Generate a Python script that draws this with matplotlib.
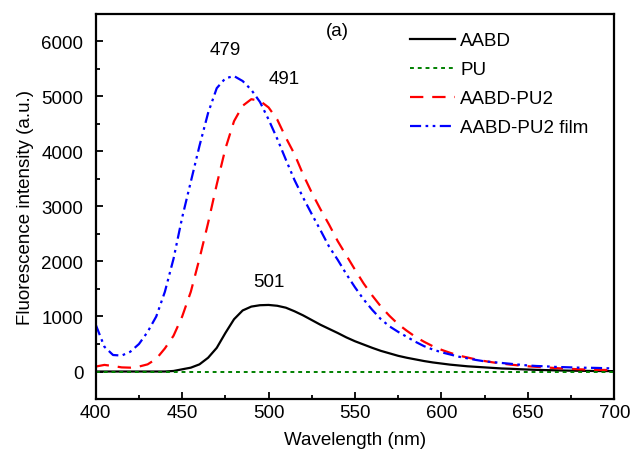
import matplotlib
matplotlib.use("Agg")
import matplotlib.pyplot as plt
from matplotlib.ticker import MultipleLocator

plt.rcParams['font.family'] = ['Liberation Sans', 'DejaVu Sans']
plt.rcParams['font.size'] = 13.5

# wavelength grid (nm)
wavelength = list(range(400, 705, 5))

# AABD
aabd = [0, 0, 0, 0, 0, 0, 0, 0, 0, 10,
        40, 70, 130, 250, 430, 700, 950, 1110, 1180, 1205,
        1210, 1195, 1160, 1095, 1020, 935, 850, 775, 700, 620,
        550, 490, 430, 375, 330, 285, 250, 220, 190, 165,
        145, 125, 110, 95, 85, 75, 65, 55, 50, 42,
        36, 30, 26, 22, 18, 15, 13, 11, 9, 8, 7]

# PU
pu = [0] * len(wavelength)

# AABD-PU2
aabd_pu2 = [90, 120, 100, 75, 70, 90, 130, 230, 420, 650,
            1000, 1450, 2050, 2700, 3400, 4050, 4550, 4830, 4950, 4920,
            4800, 4580, 4250, 3950, 3580, 3250, 2950, 2670, 2370, 2110,
            1850, 1600, 1380, 1180, 1010, 860, 740, 630, 540, 460,
            395, 340, 290, 255, 220, 190, 165, 145, 125, 110,
            95, 85, 75, 65, 55, 48, 40, 35, 30, 28, 25]

# AABD-PU2 film
aabd_pu2_film = [850, 450, 300, 290, 360, 500, 720, 1000, 1450, 2050,
                 2800, 3450, 4100, 4700, 5150, 5330, 5370, 5280, 5120, 4900,
                 4580, 4230, 3850, 3480, 3160, 2860, 2570, 2270, 2030, 1770,
                 1530, 1310, 1120, 950, 820, 720, 630, 540, 460, 400,
                 350, 310, 270, 240, 210, 185, 170, 155, 140, 125,
                 110, 100, 95, 85, 80, 75, 70, 68, 65, 60, 55]

# peak labels: text, x, y (data coords of label centre)
peak_labels = [("479", 475, 5850), ("491", 509, 5330), ("501", 500, 1640)]

fig = plt.figure(figsize=(6.3, 4.52), dpi=100)
ax = fig.add_axes([0.152, 0.115, 0.823, 0.852])

ax.plot(wavelength, aabd, color='black', lw=1.6, label='AABD', solid_joinstyle='round')
ax.plot(wavelength, pu, color='#008000', lw=1.4, linestyle=(0, (2, 2)), label='PU')
ax.plot(wavelength, aabd_pu2, color='red', lw=1.6, linestyle=(0, (6, 4)), label='AABD-PU2')
ax.plot(wavelength, aabd_pu2_film, color='blue', lw=1.6,
        linestyle=(0, (5, 2, 1.2, 2, 1.2, 2)), label='AABD-PU2 film')

for txt, x, y in peak_labels:
    ax.text(x, y, txt, ha='center', va='center')
ax.text(540, 6190, '(a)', ha='center', va='center')

ax.set_xlim(400, 700)
ax.set_ylim(-500, 6500)
ax.xaxis.set_major_locator(MultipleLocator(50))
ax.xaxis.set_minor_locator(MultipleLocator(25))
ax.yaxis.set_major_locator(MultipleLocator(1000))
ax.yaxis.set_minor_locator(MultipleLocator(500))
ax.tick_params(which='both', direction='in', width=1.3)
ax.tick_params(which='major', length=5)
ax.tick_params(which='minor', length=3)
ax.tick_params(axis='y', which='major', pad=9)
ax.tick_params(axis='both', which='both', top=False, right=False)
for s in ax.spines.values():
    s.set_linewidth(1.6)

ax.set_xlabel('Wavelength (nm)', labelpad=7)
ax.set_ylabel('Fluorescence intensity (a.u.)', labelpad=5)

ax.legend(loc='upper left', bbox_to_anchor=(0.573, 0.996), frameon=False,
          handlelength=2.4, handletextpad=0.3, labelspacing=0.63,
          borderaxespad=0.5)

fig.savefig('out.png', dpi=100)
